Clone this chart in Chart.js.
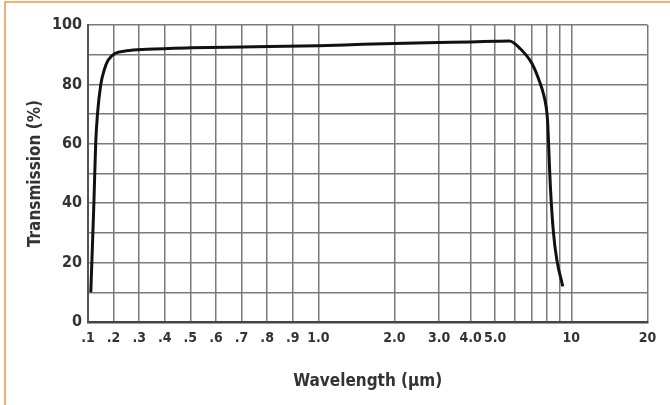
<!DOCTYPE html>
<html><head><meta charset="utf-8">
<script src="https://cdn.jsdelivr.net/npm/chart.js@4.4.1/dist/chart.umd.min.js"></script>
<style>html,body{margin:0;padding:0;background:#fff;} canvas{display:block}</style>
</head><body>
<canvas id="c" width="670" height="405"></canvas>
<script>
// ---- data ----
const wavelength = [0.111, 0.117, 0.123, 0.130, 0.137, 0.150, 0.164, 0.179, 0.205, 0.251, 0.33, 0.5, 0.7, 1.0, 1.5, 2.0, 3.0, 4.0, 5.0, 5.69, 6.27, 6.98, 7.53, 7.75, 7.95, 8.06, 8.13, 8.20, 8.27, 8.50, 8.76, 9.25];
const transmission = [10, 25, 40, 60, 70, 80, 85, 88.2, 90.4, 91.3, 91.8, 92.3, 92.6, 93.0, 93.5, 93.8, 94.1, 94.3, 94.5, 94.6, 92.1, 87.1, 80.4, 77, 72.5, 67.5, 60, 52, 45, 30, 21, 12];
const xTickValues = [0.1, 0.2, 0.3, 0.4, 0.5, 0.6, 0.7, 0.8, 0.9, 1.0, 2, 3, 4, 5, 6, 7, 8, 9, 10, 20];
const xTickLabels = ['.1', '.2', '.3', '.4', '.5', '.6', '.7', '.8', '.9', '1.0', '2.0', '3.0', '4.0', '5.0', '', '', '', '', '10', '20'];
const yTickLabels = ['0', '20', '40', '60', '80', '100'];

// Axis: linear from 0.1 to 1, logarithmic from 1 to 20
const SEG = 230.3 / 253;
class WaveScale extends Chart.LinearScale {
  _t(v) { return v <= 1 ? (v - 0.1) / 0.9 * SEG : SEG + Math.log10(v); }
  _ti(t) { return t <= SEG ? 0.1 + t / SEG * 0.9 : Math.pow(10, t - SEG); }
  getPixelForValue(v) {
    const a = this._t(this.min), b = this._t(this.max);
    return this.getPixelForDecimal((this._t(v) - a) / (b - a));
  }
  getValueForPixel(p) {
    const a = this._t(this.min), b = this._t(this.max);
    return this._ti(a + this.getDecimalForPixel(p) * (b - a));
  }
}
WaveScale.id = 'wave';
WaveScale.defaults = Chart.LinearScale.defaults;
Chart.register(WaveScale);

const FONT = "'Liberation Sans Narrow', 'DejaVu Sans Condensed', 'Arial Narrow', sans-serif";

const frame = {
  id: 'frame',
  beforeDraw(chart) {
    const ctx = chart.ctx;
    ctx.save();
    ctx.fillStyle = '#fff';
    ctx.fillRect(0, 0, chart.width, chart.height);
    ctx.strokeStyle = '#f0964a';
    ctx.lineWidth = 1.5;
    ctx.beginPath();
    ctx.moveTo(5, 405); ctx.lineTo(5, 2); ctx.lineTo(670, 2);
    ctx.stroke();
    ctx.restore();
  }
};

new Chart(document.getElementById('c'), {
  type: 'line',
  data: {
    datasets: [{
      data: wavelength.map((w, i) => ({ x: w, y: transmission[i] })),
      borderColor: '#111',
      borderWidth: 3,
      pointRadius: 0,
      cubicInterpolationMode: 'monotone',
      fill: false
    }]
  },
  options: {
    responsive: false,
    animation: false,
    layout: { padding: { left: 0, top: 25, right: 22.5, bottom: 0 } },
    plugins: { legend: { display: false }, tooltip: { enabled: false } },
    scales: {
      x: {
        type: 'wave',
        min: 0.1, max: 20,
        afterBuildTicks: s => { s.ticks = xTickValues.map(v => ({ value: v })); },
        afterFit: s => { s.height = 83; },
        ticks: {
          autoSkip: false, maxRotation: 0, minRotation: 0, padding: 8,
          color: '#333', font: { family: FONT, size: 14, weight: 'bold' },
          callback: (v, i) => xTickLabels[i]
        },
        grid: { color: '#7a7a7a', lineWidth: 1.5, drawTicks: false },
        border: { color: '#444', width: 2.5 },
        title: {
          display: true, text: 'Wavelength (μm)', color: '#333',
          font: { family: FONT, size: 17, weight: 'bold' },
          padding: { top: 0, bottom: 13 }
        }
      },
      y: {
        min: 0, max: 100,
        afterFit: s => { s.width = 88; },
        ticks: {
          stepSize: 10, padding: 6,
          color: '#333', font: { family: FONT, size: 16, weight: 'bold' },
          callback: (v) => (v % 20 === 0 ? yTickLabels[v / 20] : '')
        },
        grid: { color: '#7a7a7a', lineWidth: 1.5, drawTicks: false },
        border: { color: '#555', width: 2 },
        title: {
          display: true, text: 'Transmission (%)', color: '#333',
          font: { family: FONT, size: 17, weight: 'bold' },
          padding: { top: 25, bottom: 0 }
        }
      }
    }
  },
  plugins: [frame]
});
</script>
</body></html>
